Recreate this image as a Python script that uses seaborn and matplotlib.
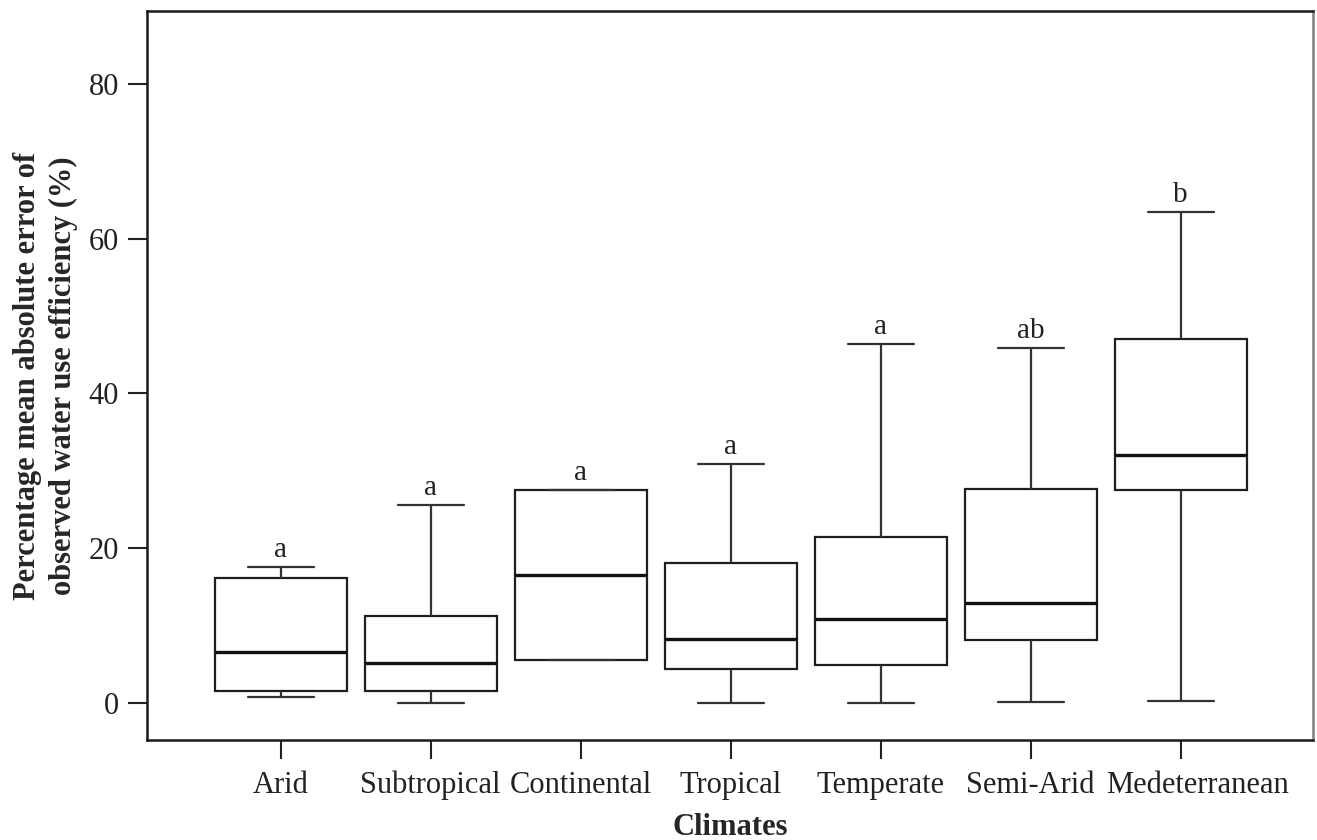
import matplotlib
matplotlib.use('Agg')
import matplotlib.pyplot as plt
import matplotlib.transforms as mtransforms
import seaborn as sns
import pandas as pd

# five-number summaries (min, q1, median, q3, max)
climates = ['Arid', 'Subtropical', 'Continental', 'Tropical', 'Temperate', 'Semi-Arid', 'Medeterranean']
whisker_low = [0.75, 0.0, 5.6, 0.05, 0.0, 0.1, 0.2]
q1 = [1.5, 1.55, 5.6, 4.35, 4.9, 8.1, 27.5]
median = [6.55, 5.15, 16.5, 8.27, 10.86, 12.9, 32.0]
q3 = [16.1, 11.25, 27.5, 18.05, 21.5, 27.65, 47.0]
whisker_high = [17.6, 25.6, 27.5, 30.9, 46.4, 45.9, 63.5]
letters = ['a', 'a', 'a', 'a', 'a', 'ab', 'b']

# with 5 values per group, numpy quartiles land exactly on q1/median/q3
rows = []
for i, c in enumerate(climates):
    for v in (whisker_low[i], q1[i], median[i], q3[i], whisker_high[i]):
        rows.append({'Climates': c, 'value': v})
df = pd.DataFrame(rows)

sns.set_style('white')
plt.rcParams['font.family'] = ['Liberation Serif', 'DejaVu Serif']

fig = plt.figure(figsize=(13.17, 8.4), dpi=100)
ax = fig.add_axes([147 / 1317, (840 - 740) / 840, 1166 / 1317, 729 / 840])

line_c = '#1e1e1e'
sns.boxplot(data=df, x='Climates', y='value', order=climates, whis=(0, 100),
            width=0.88, color='white', linecolor=line_c, linewidth=1.6,
            medianprops={'linewidth': 2.4, 'color': '#111111'},
            whiskerprops={'color': '#333333'}, capprops={'color': '#333333'},
            showfliers=False, ax=ax)

for i, lab in enumerate(letters):
    ax.text(i, whisker_high[i] + 0.5, lab, ha='center', va='bottom', fontsize=21, color='#222222')

ax.set_xlim(-0.891, 6.882)
ax.set_ylim(-4.78, 89.43)
ax.set_yticks([0, 20, 40, 60, 80])
ax.tick_params(axis='both', which='major', direction='out', length=14, width=1.5,
               color='#222222', labelsize=22, labelcolor='#222222', pad=6,
               left=True, bottom=True)
ax.tick_params(axis='x', pad=8)

# the last tick label sits a bit right of its tick in the original
last = ax.get_xticklabels()[-1]
last.set_transform(last.get_transform() + mtransforms.ScaledTranslation(0.17, 0, fig.dpi_scale_trans))

for side, sp in ax.spines.items():
    sp.set_visible(True)
    sp.set_linewidth(1.8)
    sp.set_color('#1a1a1a')
ax.spines['right'].set_color('#808080')

ax.set_xlabel('Climates', fontsize=22, fontweight='bold', labelpad=9)
ax.set_ylabel('Percentage mean absolute error of\nobserved water use efficiency (%)',
              fontsize=22, fontweight='bold', linespacing=1.3, labelpad=8)

fig.savefig('out.png', dpi=100)
plt.close(fig)
